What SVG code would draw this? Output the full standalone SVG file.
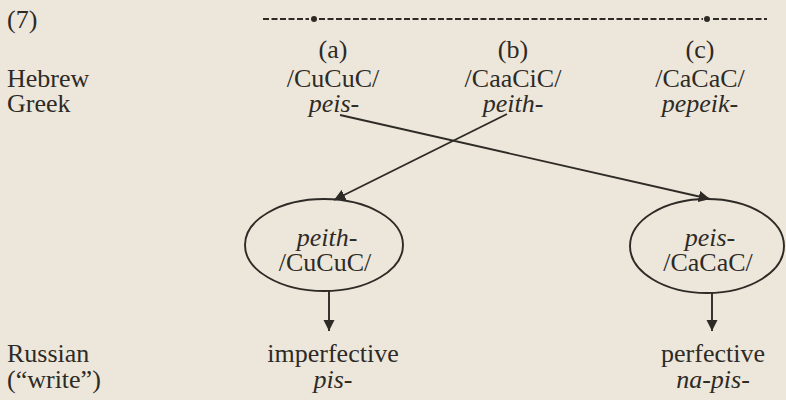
<svg xmlns="http://www.w3.org/2000/svg" width="786" height="400" viewBox="0 0 786 400">
<style>
text{font-family:"Liberation Serif","Times New Roman",serif;font-size:26px;fill:#2e2a26}
.c{text-anchor:middle}
.i{font-style:italic}
.ln{stroke:#2e2a26;stroke-width:1.9;fill:none}
.dash{stroke:#2e2a26;stroke-width:2.2;stroke-dasharray:6 2.5;fill:none}
</style>
<defs>
<marker id="ah" viewBox="0 0 10 10" refX="10" refY="5" markerWidth="6" markerHeight="6" orient="auto" markerUnits="strokeWidth">
<path d="M0,0 L10,5 L0,10 z" fill="#2e2a26"/>
</marker>
</defs>
<rect width="786" height="400" fill="#ece7da"/>
<text x="7" y="28">(7)</text>
<g id="timeline">
<line class="dash" x1="263" y1="19" x2="309" y2="19"/>
<circle cx="314" cy="19" r="3" fill="#2e2a26"/>
<line class="dash" x1="319" y1="19" x2="703" y2="19"/>
<circle cx="707" cy="19" r="3" fill="#2e2a26"/>
<line class="dash" x1="713" y1="19" x2="767" y2="19"/>
</g>
<g id="row-labels">
<text x="7" y="87">Hebrew</text>
<text x="7" y="112">Greek</text>
<text x="7" y="362">Russian</text>
<text x="7" y="388">(“write”)</text>
</g>
<g id="col-a">
<text class="c" x="333" y="58">(a)</text>
<text class="c" x="333" y="87">/CuCuC/</text>
<text class="c i" x="334" y="112">peis-</text>
</g>
<g id="col-b">
<text class="c" x="513" y="58">(b)</text>
<text class="c" x="513" y="87">/CaaCiC/</text>
<text class="c i" x="513" y="112">peith-</text>
</g>
<g id="col-c">
<text class="c" x="700" y="58">(c)</text>
<text class="c" x="700" y="87">/CaCaC/</text>
<text class="c i" x="700" y="112">pepeik-</text>
</g>
<g id="node-left">
<ellipse class="ln" cx="324" cy="245" rx="79" ry="46"/>
<text class="c i" x="327" y="246">peith-</text>
<text class="c" x="325" y="271">/CuCuC/</text>
</g>
<g id="node-right">
<ellipse class="ln" cx="707" cy="246" rx="77" ry="47"/>
<text class="c i" x="710" y="246">peis-</text>
<text class="c" x="708" y="271">/CaCaC/</text>
</g>
<g id="result-left">
<text class="c" x="333" y="362">imperfective</text>
<text class="c i" x="333" y="388">pis-</text>
</g>
<g id="result-right">
<text class="c" x="713" y="362">perfective</text>
<text class="c i" x="713" y="388">na-pis-</text>
</g>
<g id="connectors">
<line class="ln" x1="340" y1="115" x2="710" y2="199" marker-end="url(#ah)"/>
<line class="ln" x1="507" y1="114" x2="334" y2="200" marker-end="url(#ah)"/>
<line class="ln" x1="329" y1="291" x2="329" y2="331" marker-end="url(#ah)"/>
<line class="ln" x1="712" y1="293" x2="712" y2="331" marker-end="url(#ah)"/>
</g>
</svg>
